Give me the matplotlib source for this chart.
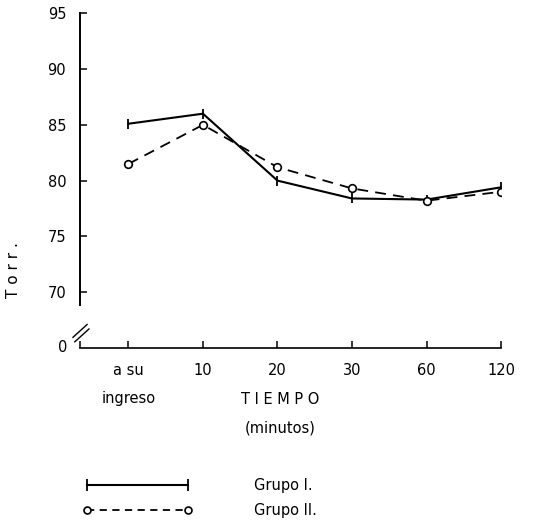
import matplotlib.pyplot as plt
from matplotlib.lines import Line2D

# Datos
tiempos = ['a su\ningreso', '10', '20', '30', '60', '120']
grupo1 = [85.1, 86.0, 80.0, 78.4, 78.3, 79.4]
grupo2 = [81.5, 85.0, 81.2, 79.3, 78.2, 79.0]
yticks = [70, 75, 80, 85, 90, 95]

x = list(range(len(tiempos)))

fig = plt.figure(figsize=(5.58, 5.24), dpi=100)
ax = fig.add_axes([0.1434, 0.336, 0.7545, 0.645])

ax.plot(x, grupo1, color='black', lw=1.5, marker='|', ms=7, mew=1.3)
ax.plot(x, grupo2, color='black', lw=1.3, ls=(0, (6, 4)), marker='o',
        ms=5.5, mfc='white', mew=1.2)

ax.set_xlim(-0.584, 5)
ax.set_ylim(65, 95.3)
ax.set_xticks(x)
ax.set_xticklabels(tiempos, fontsize=10.5, linespacing=2.1)
ax.set_yticks(yticks)
ax.set_yticklabels([str(v) for v in yticks], fontsize=10.5)
ax.set_xticks([-0.65], minor=True)
ax.tick_params(axis='both', which='both', direction='in', length=5, width=1.1)
ax.tick_params(axis='y', pad=10)
ax.tick_params(axis='x', pad=11)

for s in ['top', 'right']:
    ax.spines[s].set_visible(False)
ax.spines['left'].set_bounds(68.85, 95)
ax.spines['bottom'].set_bounds(-0.65, 5)
ax.spines['left'].set_linewidth(1.4)
ax.spines['bottom'].set_linewidth(1.2)

# cero del eje y corte
ax.text(-0.88, 65, '0', fontsize=10.5, ha='center', va='center')
ax.plot([-0.745, -0.555], [65.95, 67.1], color='black', lw=1, clip_on=False)
ax.plot([-0.72, -0.53], [65.55, 66.7], color='black', lw=1, clip_on=False)

ax.set_ylabel('T o r r .', fontsize=11)
ax.yaxis.set_label_coords(-0.14, 0.23)

fig.text(280 / 558, 1 - 399 / 524, 'T I E M P O', fontsize=10.5, ha='center', va='center')
fig.text(280 / 558, 1 - 428 / 524, '(minutos)', fontsize=10.5, ha='center', va='center')

handles = [
    Line2D([], [], color='black', lw=1.5, marker='|', ms=8, mew=1.3),
    Line2D([], [], color='black', lw=1.3, ls=(0, (4, 3)), marker='o',
           ms=5, mfc='white', mew=1.2),
]
fig.legend(handles, ['Grupo I.', 'Grupo II.'], loc='upper left',
           bbox_to_anchor=(83 / 558, 1 - 478 / 524), frameon=False,
           fontsize=10.5, handlelength=7.5, handletextpad=4.2,
           labelspacing=0.7, numpoints=2, borderpad=0, borderaxespad=0)

fig.savefig('out.png', dpi=100)
